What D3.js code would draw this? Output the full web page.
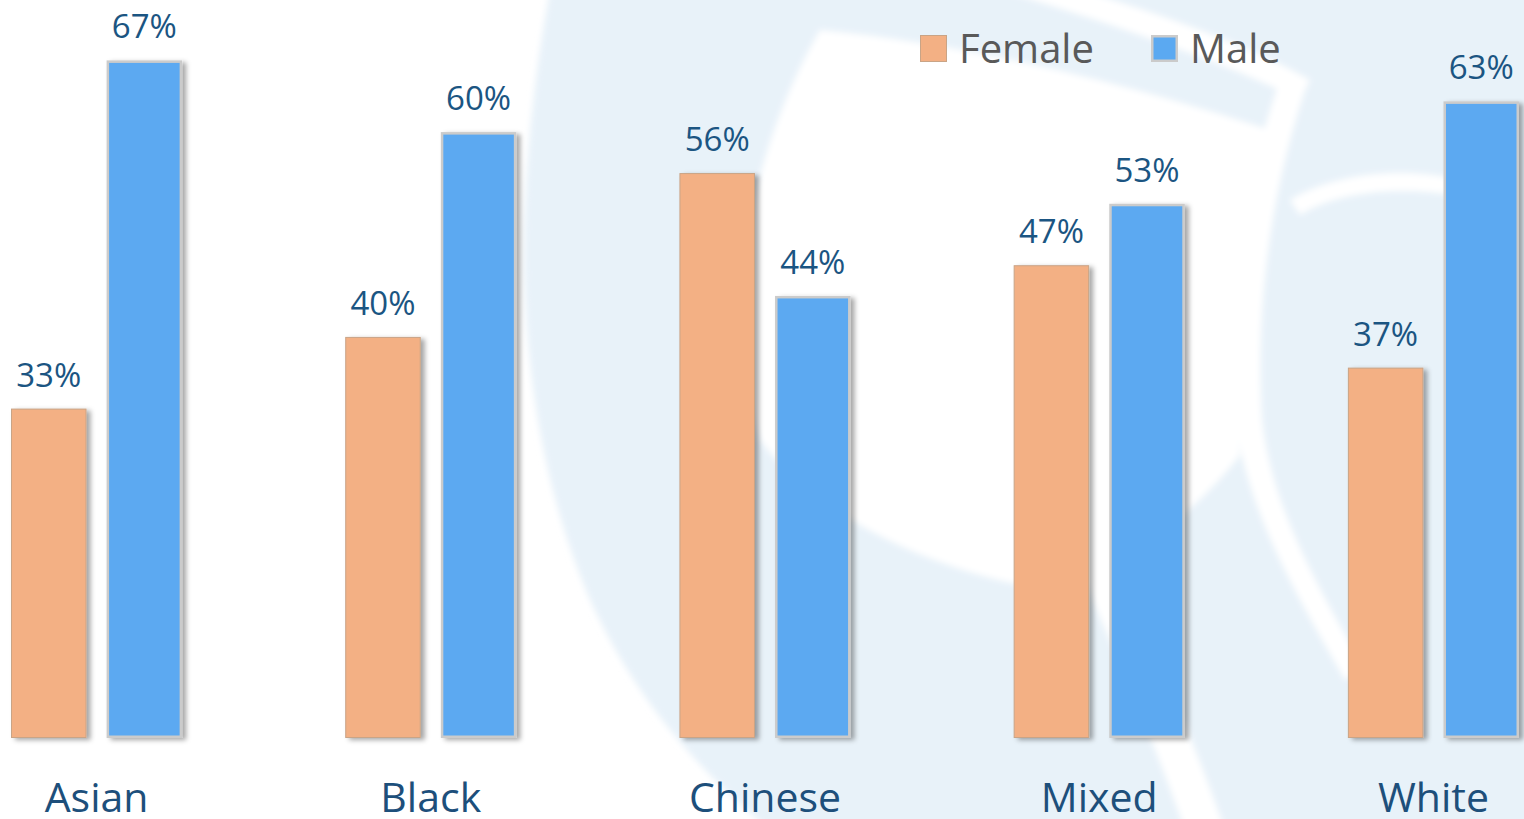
<!DOCTYPE html>
<html>
<head>
<meta charset="utf-8">
<script src="https://cdn.jsdelivr.net/npm/d3@7"></script>
<style>
  html, body { margin: 0; padding: 0; background: #ffffff; }
  svg { display: block; }
</style>
</head>
<body>
<svg id="chart" width="1524" height="819"></svg>
<script>
// ---- Data ----
const categories = ["Asian", "Black", "Chinese", "Mixed", "White"];
const seriesNames = ["Female", "Male"];
const femaleValues = [33, 40, 56, 47, 37];
const maleValues = [67, 60, 44, 53, 63];

const seriesValues = { Female: femaleValues, Male: maleValues };
const rows = categories.map((c, i) => ({
  category: c,
  values: seriesNames.map(s => ({ series: s, value: seriesValues[s][i] }))
}));

const svg = d3.select("#chart");

// ---- Defs ----
const defs = svg.append("defs");
const f = defs.append("filter").attr("id", "shadow")
  .attr("x", "-20%").attr("y", "-5%").attr("width", "150%").attr("height", "115%");
f.append("feDropShadow").attr("dx", 4).attr("dy", 2).attr("stdDeviation", 2.5)
  .attr("flood-color", "#000").attr("flood-opacity", 0.35);
defs.append("filter").attr("id", "soft")
  .append("feGaussianBlur").attr("stdDeviation", 3);

// ---- Background watermark (decorative) ----
const bg = svg.append("g").attr("class", "watermark").attr("filter", "url(#soft)");
const wm = "#e8f2f9";
bg.append("path").attr("fill", wm)
  .attr("d", "M550,-10 C515,180 505,400 590,600 C640,710 710,780 770,830 L1540,830 L1540,-10 Z");
// white inner hole
bg.append("path").attr("fill", "#ffffff")
  .attr("d", "M820,30 C980,45 1150,90 1285,135 C1245,240 1228,350 1240,455 C1190,520 1120,565 1060,592 C940,575 820,520 760,440 C718,330 745,160 820,30 Z");
// white tail
bg.append("path").attr("fill", "#ffffff")
  .attr("d", "M1075,560 C1110,640 1150,730 1185,830 L1225,830 C1190,730 1150,640 1110,560 Z");
// white arc on right
bg.append("path").attr("fill", "#ffffff")
  .attr("d", "M1280,80 C1245,180 1225,300 1235,420 C1250,520 1300,600 1345,680 L1365,670 C1320,590 1272,510 1262,420 C1255,300 1272,190 1305,90 Z");
// white arc above inner circle
bg.append("path").attr("fill", "#ffffff")
  .attr("d", "M1290,200 C1330,175 1400,165 1460,180 L1458,196 C1400,185 1335,192 1300,215 Z");
// white sliver at top of logo
bg.append("path").attr("fill", "#ffffff")
  .attr("d", "M1000,-10 C1100,20 1220,60 1300,100 L1310,80 C1240,40 1140,8 1080,-10 Z");

// ---- Scales ----
const x0 = d3.scaleBand().domain(categories).range([11, 1519]).paddingInner(0.488).paddingOuter(0);
const x1 = d3.scaleBand().domain(seriesNames).range([0, x0.bandwidth()]).paddingInner(0.21).paddingOuter(0);
const y = d3.scaleLinear().domain([0, 100]).range([746.5, -277.5]);
const plotBottom = 738; // visible floor of the plot area

const fillColor = { Female: "#f3b084", Male: "#5ba9f1" };
const strokeColor = { Female: "#c9a486", Male: "#cbcbcb" };
const strokeW = { Female: 1, Male: 2.5 };

// ---- Bars ----
const groups = svg.append("g").selectAll("g").data(rows).join("g")
  .attr("transform", d => `translate(${x0(d.category)},0)`);

groups.selectAll("rect").data(d => d.values).join("rect")
  .attr("x", d => x1(d.series) + strokeW[d.series] / 2)
  .attr("y", d => y(d.value) + strokeW[d.series] / 2)
  .attr("width", d => x1.bandwidth() - strokeW[d.series])
  .attr("height", d => plotBottom - y(d.value) - strokeW[d.series])
  .attr("fill", d => fillColor[d.series])
  .attr("stroke", d => strokeColor[d.series])
  .attr("stroke-width", d => strokeW[d.series])
  .attr("filter", "url(#shadow)");

// ---- Value labels ----
groups.selectAll("text.val").data(d => d.values).join("text")
  .attr("class", "val")
  .attr("x", d => x1(d.series) + x1.bandwidth() / 2)
  .attr("y", d => y(d.value) - 22)
  .attr("text-anchor", "middle")
  .attr("font-family", "'Open Sans', sans-serif")
  .attr("font-size", 33)
  .attr("fill", "#1b5582")
  .text(d => d.value + "%");

// ---- Category axis labels ----
const xAxis = d3.axisBottom(x0).tickSize(0).tickPadding(0);
const axisG = svg.append("g").attr("transform", "translate(0,775)").call(xAxis);
axisG.select(".domain").remove();
axisG.selectAll("text")
  .attr("font-family", "'Open Sans', sans-serif")
  .attr("font-size", 41)
  .attr("fill", "#1d4f7b")
  .attr("dy", 0)
  .attr("y", 37);

// ---- Legend ----
const legendX = { Female: 920, Male: 1151 };
const legend = svg.append("g").selectAll("g").data(seriesNames).join("g")
  .attr("transform", d => `translate(${legendX[d]},35)`);
legend.append("rect")
  .attr("x", d => strokeW[d] / 2).attr("y", d => strokeW[d] / 2)
  .attr("width", d => 27 - strokeW[d]).attr("height", d => 27 - strokeW[d])
  .attr("fill", d => fillColor[d])
  .attr("stroke", d => strokeColor[d])
  .attr("stroke-width", d => strokeW[d]);
legend.append("text")
  .attr("x", 39).attr("y", 28)
  .attr("font-family", "'Open Sans', sans-serif")
  .attr("font-size", 40)
  .attr("fill", "#595959")
  .text(d => d);
</script>
</body>
</html>
